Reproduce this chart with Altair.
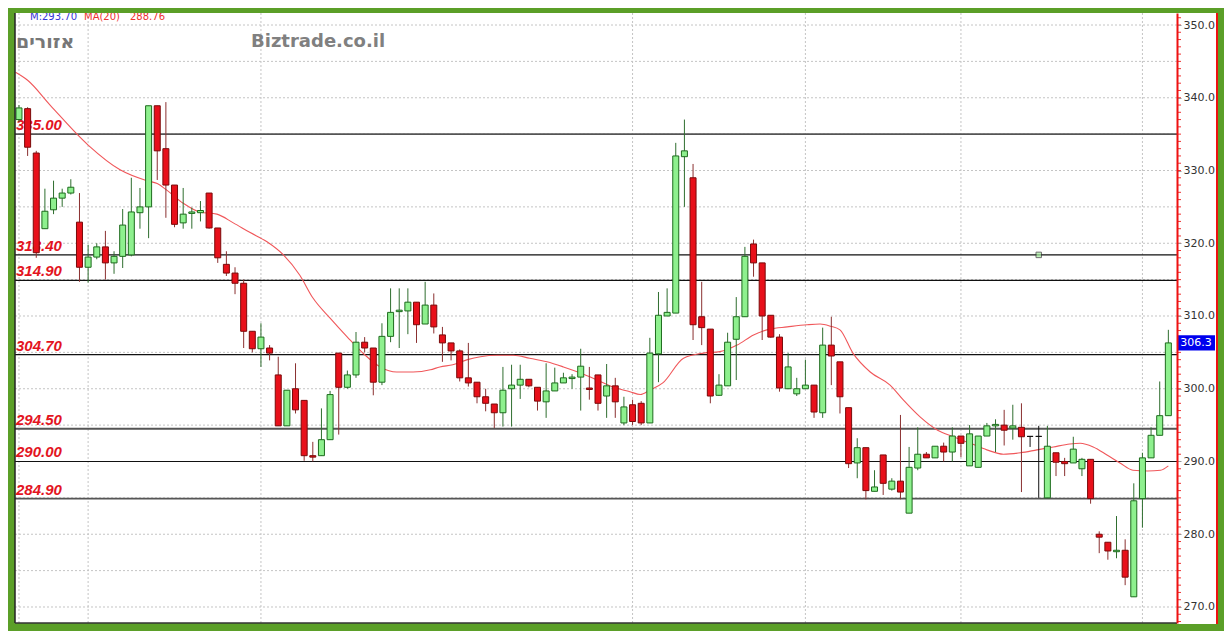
import altair as alt
import pandas as pd

# ---- candle data (index = trading day position) ----
opens = [337.0, 338.5, 332.4, 322.0, 324.6, 326.2, 326.9, 322.9, 316.7, 318.1,
         319.5, 317.3, 318.2, 318.4, 324.2, 325.0, 338.9, 333.0, 328.0, 322.8,
         324.1, 324.2, 326.9, 322.1, 317.1, 315.9, 314.5, 307.9, 305.5, 305.6,
         301.9, 294.9, 300.0, 298.4, 290.8, 290.8, 293.0, 304.9, 300.2, 301.9,
         306.4, 305.6, 300.9, 307.2, 310.6, 310.7, 311.9, 308.9, 311.5, 307.4,
         306.3, 305.2, 301.5, 300.9, 298.9, 297.9, 296.7, 300.0, 300.5, 301.3,
         300.2, 298.2, 299.7, 300.8, 301.4, 301.6, 300.1, 301.9, 299.0, 300.4,
         295.3, 297.8, 298.0, 295.3, 304.8, 310.0, 310.4, 331.9, 329.0, 309.9,
         308.2, 299.1, 300.4, 306.8, 309.9, 319.9, 317.3, 310.1, 307.1, 300.0,
         299.3, 300.0, 300.5, 296.7, 306.0, 303.7, 297.4, 289.8, 291.9, 285.9,
         290.9, 286.2, 287.3, 282.9, 289.1, 291.0, 290.5, 292.1, 291.3, 293.5,
         289.4, 289.2, 293.5, 294.9, 295.0, 294.6, 294.7, 293.45, 293.45, 285.0,
         291.2, 290.0, 289.8, 289.0, 290.3, 280.0, 278.9, 277.6, 277.8, 271.4,
         284.9, 290.5, 293.6, 296.3]
highs = [339.0, 338.7, 332.7, 327.5, 328.6, 327.5, 328.8, 326.9, 319.8, 320.0,
         321.7, 318.9, 324.7, 329.0, 327.6, 338.9, 338.9, 339.4, 328.0, 327.6,
         324.9, 325.8, 326.9, 322.1, 318.9, 316.7, 315.0, 307.9, 309.0, 306.0,
         304.4, 299.8, 303.5, 298.4, 292.7, 297.3, 299.7, 304.9, 302.5, 307.8,
         307.1, 305.6, 309.0, 313.8, 313.8, 313.8, 311.9, 314.7, 313.1, 308.5,
         306.3, 305.4, 306.3, 300.9, 300.0, 297.9, 303.0, 303.3, 303.3, 301.3,
         300.2, 303.5, 302.9, 302.2, 302.0, 305.5, 303.0, 301.9, 303.4, 301.5,
         298.9, 298.5, 298.3, 307.0, 313.3, 313.8, 333.8, 337.0, 330.9, 314.7,
         308.2, 302.0, 307.7, 312.6, 319.5, 320.5, 317.3, 310.1, 307.5, 304.9,
         301.5, 304.0, 300.5, 308.4, 309.9, 303.7, 297.4, 293.2, 291.9, 288.8,
         290.9, 287.7, 296.4, 292.0, 294.7, 291.3, 292.1, 292.6, 294.7, 293.5,
         295.0, 293.5, 295.3, 295.8, 297.1, 297.8, 298.0, 293.45, 294.9, 294.9,
         291.2, 290.5, 293.4, 290.5, 290.3, 280.4, 278.9, 282.5, 279.3, 287.0,
         291.2, 294.7, 301.0, 308.1]
lows = [336.7, 332.0, 318.0, 322.0, 324.0, 325.0, 326.7, 314.7, 314.6, 317.8,
        315.0, 315.8, 316.6, 318.2, 322.0, 320.7, 328.7, 323.5, 322.2, 322.0,
        322.0, 323.0, 322.0, 317.3, 315.5, 313.0, 305.6, 305.0, 303.0, 303.9,
        294.9, 294.9, 296.6, 290.1, 290.0, 290.8, 293.0, 293.7, 300.0, 301.5,
        305.0, 299.1, 300.5, 306.4, 305.6, 307.5, 306.3, 308.9, 307.6, 303.7,
        303.9, 301.0, 300.3, 298.0, 296.9, 294.6, 294.8, 294.8, 298.6, 300.2,
        297.0, 296.0, 299.7, 300.8, 300.0, 297.0, 298.5, 297.0, 296.0, 296.0,
        295.0, 295.0, 295.0, 295.3, 300.9, 310.0, 310.4, 325.0, 306.7, 306.0,
        298.0, 299.0, 300.4, 301.2, 309.9, 315.4, 306.7, 307.0, 299.6, 300.0,
        299.0, 300.0, 296.0, 296.0, 300.5, 296.6, 289.1, 287.7, 284.8, 285.9,
        285.4, 286.0, 284.8, 282.9, 288.8, 290.5, 290.5, 290.0, 290.0, 290.6,
        289.4, 289.2, 293.5, 291.3, 292.2, 293.0, 285.8, 292.0, 285.0, 285.0,
        288.0, 288.0, 289.8, 288.0, 284.2, 277.4, 276.5, 276.7, 273.0, 271.4,
        280.9, 290.5, 293.6, 296.3]
closes = [338.6, 333.2, 318.7, 324.4, 326.2, 326.9, 327.7, 316.7, 318.1, 319.5,
          317.3, 318.2, 322.5, 324.3, 325.0, 338.9, 332.7, 328.0, 322.6, 324.0,
          324.3, 324.5, 322.1, 318.0, 315.9, 314.5, 307.9, 305.5, 307.1, 304.9,
          294.9, 299.8, 297.1, 290.8, 290.6, 293.0, 299.2, 300.2, 301.9, 306.4,
          305.6, 300.9, 307.2, 310.5, 310.8, 311.9, 308.8, 311.5, 308.5, 306.3,
          305.2, 301.5, 300.8, 298.9, 298.0, 296.7, 299.8, 300.5, 301.3, 300.4,
          298.3, 299.7, 300.8, 301.5, 301.6, 303.1, 299.9, 298.0, 300.4, 298.2,
          297.5, 295.5, 295.3, 304.9, 310.1, 310.5, 332.0, 332.7, 308.8, 308.4,
          299.0, 300.5, 306.4, 309.9, 318.2, 317.3, 310.0, 307.1, 300.1, 303.0,
          300.0, 300.5, 296.8, 306.0, 304.5, 298.9, 289.7, 291.9, 286.0, 286.5,
          287.0, 287.3, 285.8, 289.2, 291.0, 290.5, 292.1, 291.3, 293.5, 292.5,
          293.8, 293.5, 294.9, 295.1, 294.3, 294.9, 293.4, 293.45, 293.45, 292.1,
          289.9, 289.7, 291.7, 290.3, 284.9, 279.6, 277.7, 277.8, 274.1, 284.6,
          290.5, 293.6, 296.3, 306.3]

# ---- MA(20) line (position, value) ----
ma_pos = [-0.4, 1, 3.6, 8, 11.7, 14.8, 16, 17.1, 19, 20.9, 22.9, 24.8, 26.7, 28.7,
          30.6, 32.5, 34, 36, 38, 39.8, 41.8, 43.7, 45.6, 47.6, 48.7, 50.2, 51.9,
          53.4, 55.3, 57.2, 59.1, 61.1, 63, 64.9, 66.9, 68.8, 70.7, 71.9, 73, 74.5,
          76.9, 79.2, 81.1, 83.1, 85, 86.9, 88.9, 91.2, 92.7, 93.9, 95, 96.5, 98.5,
          100.8, 102.3, 104.3, 106.3, 108.1, 110.1, 112, 113.9, 115.9, 117.8,
          119.7, 121.6, 122.8, 124.3, 125.9, 127.4, 128.9, 130.6, 132.1, 133]
ma_val = [343.5, 342.4, 339.0, 333.5, 330.1, 328.6, 328.2, 327.3, 325.5, 324.3,
          324.0, 322.8, 321.5, 320.2, 318.4, 315.6, 312.5, 309.7, 307.1, 304.9,
          303.0, 302.3, 302.3, 302.6, 303.0, 303.3, 304.0, 304.4, 304.6, 304.6,
          304.2, 303.7, 303.0, 302.2, 301.2, 300.2, 299.6, 299.2, 299.8, 300.8,
          304.2, 304.9, 305.1, 306.0, 307.4, 308.2, 308.5, 308.8, 308.9, 308.6,
          308.1, 304.9, 302.3, 300.5, 298.5, 296.1, 294.3, 293.4, 292.5, 291.6,
          291.0, 291.2, 291.6, 292.0, 292.4, 292.5, 292.0, 290.9, 289.8, 288.8,
          288.7, 288.8, 289.4]

# ---- horizontal levels ----
levels = [335.0, 318.4, 314.9, 304.7, 294.5, 290.0, 284.9]
level_heavy = [True, False, False, False, True, False, True]

vgrid_pos = [0, 8, 28, 71, 91, 109, 130]
y_ticks = list(range(270, 351, 5))
minor_ticks = list(range(268, 352))
marker_pos = [118]
marker_val = [318.4]
last_price = [306.3]
last_pos = [133]

W, H = 1162, 610
X_DOM = [-0.46, 134.0]
Y_DOM = [267.8, 351.65]

n = len(opens)
df = pd.DataFrame({"i": list(range(n)), "o": opens, "h": highs, "l": lows, "c": closes})
df["kind"] = ["up" if c > o + 0.01 else ("down" if c < o - 0.01 else "doji")
              for o, c in zip(opens, closes)]

xs = alt.Scale(domain=X_DOM, nice=False, zero=False, padding=0)
ys = alt.Scale(domain=Y_DOM, nice=False, zero=False, padding=0)

kind_fill = alt.Scale(domain=["up", "down", "doji"], range=["#8ef08e", "#e8101a", "#222222"])
kind_stroke = alt.Scale(domain=["up", "down", "doji"], range=["#1d6b1d", "#7a0a0a", "#111111"])
kind_wick = alt.Scale(domain=["up", "down", "doji"], range=["#2f6e2f", "#8a3030", "#111111"])

grid_df = pd.DataFrame({"v": y_ticks})
# horizontal dotted grid (drawn as marks, under everything)
hgrid = alt.Chart(grid_df).mark_rule(
    color="#c4c4c4", strokeDash=[2, 2], strokeWidth=1).encode(
    y=alt.Y("v:Q", scale=ys, axis=alt.Axis(
        orient="right", values=y_ticks, format=".1f", title=None, zindex=2,
        labelFont="DejaVu Sans", labelFontSize=11, labelColor="#333333",
        labelPadding=2, tickSize=4, tickColor="#999999", tickWidth=1,
        domainColor="#ee1111", domainWidth=2, grid=False)),
    x=alt.value(0), x2=alt.value(W))

vgrid = alt.Chart(pd.DataFrame({"g": vgrid_pos})).mark_rule(
    color="#c4c4c4", strokeDash=[2, 2], strokeWidth=1).encode(
    x=alt.X("g:Q", scale=xs, axis=None))

# white band for the price axis, red right edge
band = alt.Chart(pd.DataFrame({"a": [0]})).mark_rect(color="white").encode(
    x=alt.value(W), x2=alt.value(W + 40), y=alt.value(0), y2=alt.value(H + 1))
band_edge = alt.Chart(pd.DataFrame({"a": [0]})).mark_rule(color="#ee1111", strokeWidth=2).encode(
    x=alt.value(W + 40), y=alt.value(0), y2=alt.value(H + 1))
left_edge = alt.Chart(pd.DataFrame({"a": [0]})).mark_rule(color="#222222", strokeWidth=1.5).encode(
    x=alt.value(0), y=alt.value(0), y2=alt.value(H))
bottom_edge = alt.Chart(pd.DataFrame({"a": [0]})).mark_rule(color="#333333", strokeWidth=1.5).encode(
    x=alt.value(0), x2=alt.value(W), y=alt.value(H))

minor = alt.Chart(pd.DataFrame({"m": minor_ticks})).mark_rule(
    color="#ee3333", strokeWidth=1).encode(
    y=alt.Y("m:Q", scale=ys), x=alt.value(W + 1), x2=alt.value(W + 4))

lev_df = pd.DataFrame({"lv": levels, "heavy": level_heavy})
lev_df["lab"] = [f"{v:.2f}" for v in levels]
lev_lines = alt.Chart(lev_df).mark_rule().encode(
    y=alt.Y("lv:Q", scale=ys),
    x=alt.value(0), x2=alt.value(W),
    color=alt.condition("datum.heavy", alt.value("#555555"), alt.value("#111111")),
    strokeWidth=alt.condition("datum.heavy", alt.value(1.8), alt.value(1.2)),
)
lev_labels = alt.Chart(lev_df).mark_text(
    align="left", baseline="bottom", dx=0, dy=-1, font="Liberation Sans",
    fontSize=15, fontWeight="bold", fontStyle="italic", color="#e3141e").encode(
    y=alt.Y("lv:Q", scale=ys), x=alt.value(1), text="lab:N")

ma_df = pd.DataFrame({"p": ma_pos, "v": ma_val})
ma_line = alt.Chart(ma_df).mark_line(color="#f0575a", strokeWidth=1.1, interpolate="monotone").encode(
    x=alt.X("p:Q", scale=xs), y=alt.Y("v:Q", scale=ys))

wicks = alt.Chart(df).mark_rule(strokeWidth=1).encode(
    x=alt.X("i:Q", scale=xs), y=alt.Y("l:Q", scale=ys), y2="h:Q",
    color=alt.Color("kind:N", scale=kind_wick, legend=None))

bodies = alt.Chart(df).mark_bar(size=6, strokeWidth=1).encode(
    x=alt.X("i:Q", scale=xs), y=alt.Y("o:Q", scale=ys), y2="c:Q",
    fill=alt.Fill("kind:N", scale=kind_fill, legend=None),
    stroke=alt.Stroke("kind:N", scale=kind_stroke, legend=None))

marker = alt.Chart(pd.DataFrame({"p": marker_pos, "v": marker_val})).mark_point(
    shape="square", size=30, filled=True, color="#a8f0a0", stroke="#333333", strokeWidth=1).encode(
    x=alt.X("p:Q", scale=xs), y=alt.Y("v:Q", scale=ys))

badge_df = pd.DataFrame({"p": last_pos, "v": last_price})
badge_df["lab"] = [f"{v:.1f}" for v in last_price]
badge = alt.Chart(badge_df).mark_point(
    shape="M-1,-0.4L1,-0.4L1,0.4L-1,0.4Z", size=1444, filled=True, color="#0000ee", opacity=1).encode(
    x=alt.value(W + 19), y=alt.Y("v:Q", scale=ys))
badge_txt = alt.Chart(badge_df).mark_text(
    font="DejaVu Sans", fontSize=11, color="white", align="center", baseline="middle").encode(
    x=alt.value(W + 19), y=alt.Y("v:Q", scale=ys), text="lab:N")

legend_df = pd.DataFrame({"t": ["M:293.70", "MA(20)", "288.76"],
                          "px": [15, 69, 115], "col": ["#3434d8", "#ee3030", "#ee3030"]})
legend_txt = alt.Chart(legend_df).mark_text(
    font="DejaVu Sans", fontSize=10, align="left", baseline="alphabetic", clip=True).encode(
    x=alt.X("px:Q", scale=None), y=alt.value(7), text="t:N",
    color=alt.Color("col:N", scale=None))

heb = alt.Chart(pd.DataFrame({"t": ["אזורים"]})).mark_text(
    font="DejaVu Sans", fontSize=19, fontWeight="bold", color="#777777",
    align="left", baseline="middle").encode(
    x=alt.value(1), y=alt.value(29), text="t:N")
brand = alt.Chart(pd.DataFrame({"t": ["Biztrade.co.il"]})).mark_text(
    font="DejaVu Sans", fontSize=18, fontWeight="bold", color="#808080",
    align="left", baseline="middle").encode(
    x=alt.value(236), y=alt.value(29), text="t:N")

chart = alt.layer(
    band, hgrid, vgrid, lev_lines, lev_labels, ma_line, wicks, bodies, marker,
    left_edge, bottom_edge, band_edge, minor, badge, badge_txt, legend_txt, heb, brand
).properties(
    width=W, height=H,
    padding={"left": 7, "top": 5, "right": 47, "bottom": 8},
    autosize=alt.AutoSizeParams(type="none"),
    background="#5b9f28",
).configure_view(fill="white", stroke=None)

chart.save("out.html", embed_options={"renderer": "svg", "actions": False})
